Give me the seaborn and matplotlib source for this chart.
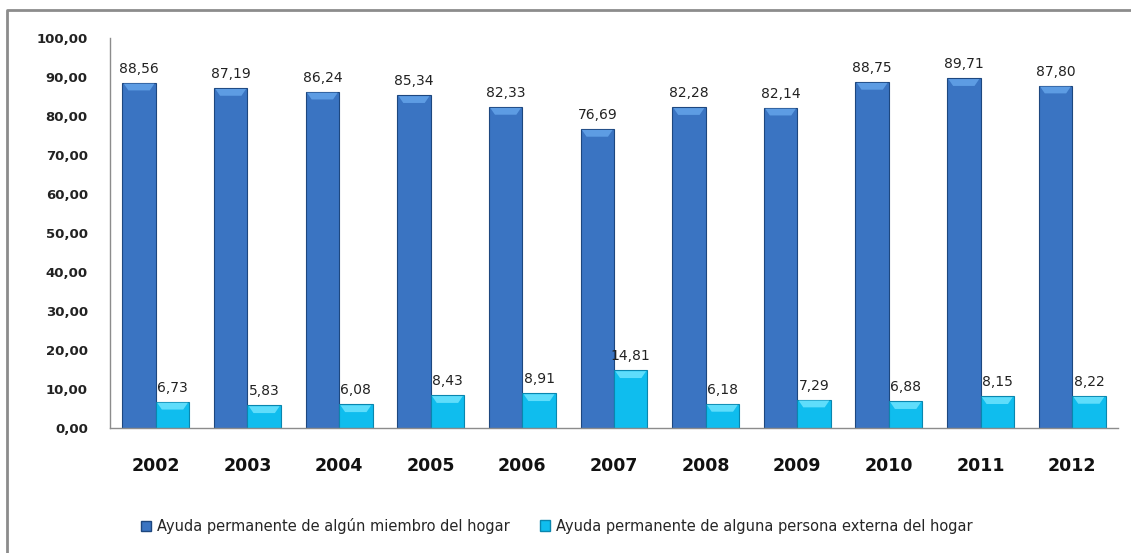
import matplotlib
matplotlib.use("Agg")
import matplotlib.pyplot as plt
from matplotlib.patches import Rectangle, Polygon
from matplotlib.lines import Line2D
import seaborn as sns
import pandas as pd

years = ["2002", "2003", "2004", "2005", "2006", "2007", "2008", "2009", "2010", "2011", "2012"]
miembro = [88.56, 87.19, 86.24, 85.34, 82.33, 76.69, 82.28, 82.14, 88.75, 89.71, 87.80]
externa = [6.73, 5.83, 6.08, 8.43, 8.91, 14.81, 6.18, 7.29, 6.88, 8.15, 8.22]
series_names = ["Ayuda permanente de algún miembro del hogar",
                "Ayuda permanente de alguna persona externa del hogar"]
yticks = [0, 10, 20, 30, 40, 50, 60, 70, 80, 90, 100]

df = pd.DataFrame({
    "year": years * 2,
    "value": miembro + externa,
    "serie": [series_names[0]] * len(years) + [series_names[1]] * len(years),
})

sns.set_theme(style="white")
plt.rcParams["font.family"] = ["DejaVu Sans"]

fig = plt.figure(figsize=(11.31, 5.53), dpi=100)
ax = fig.add_axes([110 / 1131, 1 - 428 / 553, (1118 - 110) / 1131, (428 - 38) / 553])

palette = {series_names[0]: "#3A74C2", series_names[1]: "#0FBDEE"}
sns.barplot(data=df, x="year", y="value", hue="serie", palette=palette,
            width=0.73, gap=0.0, saturation=1, ax=ax, legend=False)

edge = {0: "#1D477F", 1: "#0A86AE"}
highlight = {0: "#5D9CE3", 1: "#5FDDFB"}
for i, cont in enumerate(ax.containers):
    for bar in cont:
        bar.set_edgecolor(edge[i])
        bar.set_linewidth(0.8)
        # bevel highlight at the top of each bar (derived from the bar geometry)
        x0, w, h = bar.get_x(), bar.get_width(), bar.get_height()
        dh = min(2.0, h * 0.45)
        inset = w * 0.18
        poly = Polygon([(x0 + w * 0.04, h - 0.25), (x0 + w * 0.96, h - 0.25),
                        (x0 + w - inset, h - dh), (x0 + inset, h - dh)],
                       closed=True, facecolor=highlight[i], edgecolor="none", zorder=3)
        ax.add_patch(poly)
    vals = miembro if i == 0 else externa
    ax.bar_label(cont, labels=[f"{v:.2f}".replace(".", ",") for v in vals],
                 padding=5, fontsize=10, color="#222222")

ax.set_ylim(0, 100)
ax.set_yticks(yticks)
ax.set_yticklabels([f"{v:.2f}".replace(".", ",") for v in yticks],
                   fontsize=9.5, fontweight="bold", color="#222222")
ax.set_xlim(-0.5, len(years) - 0.5)
for lab in ax.get_xticklabels():
    lab.set_fontsize(12.5)
    lab.set_fontweight("bold")
    lab.set_color("#111111")
ax.tick_params(axis="x", length=0, pad=21)
ax.tick_params(axis="y", length=0, pad=16)
ax.set_xlabel("")
ax.set_ylabel("")
for s in ["top", "right"]:
    ax.spines[s].set_visible(False)
for s in ["left", "bottom"]:
    ax.spines[s].set_color("#8C8C8C")
    ax.spines[s].set_linewidth(1.0)

# outer chart frame (top and left edges visible)
fig.add_artist(Line2D([7 / 1131, 7 / 1131, 1.0], [0.0, 1 - 9.5 / 553, 1 - 9.5 / 553],
                      transform=fig.transFigure, color="#8C8C8C", linewidth=2.0))

h0 = Rectangle((0, 0), 1, 1, facecolor=palette[series_names[0]], edgecolor=edge[0])
h1 = Rectangle((0, 0), 1, 1, facecolor=palette[series_names[1]], edgecolor=edge[1])
leg1 = fig.legend([h0], [series_names[0]], loc="center left",
                  bbox_to_anchor=(128 / 1131, 1 - 526 / 553), frameon=False,
                  fontsize=10.5, handlelength=0.7, handleheight=0.7, handletextpad=0.4)
fig.legend([h1], [series_names[1]], loc="center left",
           bbox_to_anchor=(527 / 1131, 1 - 526 / 553), frameon=False,
           fontsize=10.5, handlelength=0.7, handleheight=0.7, handletextpad=0.4)

fig.savefig("out.png", dpi=100)
